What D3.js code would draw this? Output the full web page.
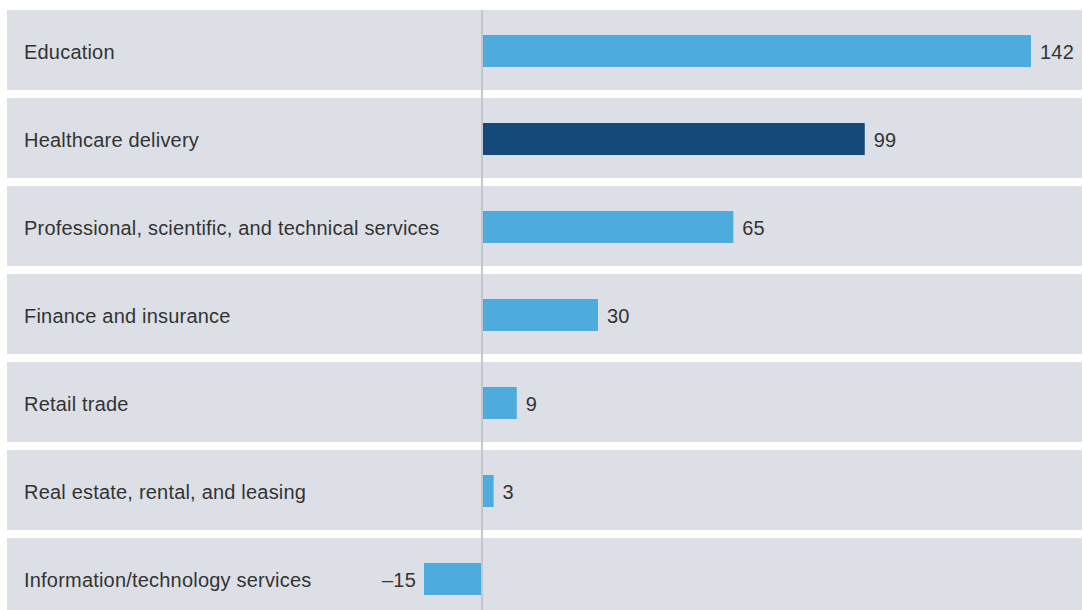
<!DOCTYPE html>
<html>
<head>
<meta charset="utf-8">
<script src="https://cdn.jsdelivr.net/npm/d3@7"></script>
<style>
	body { margin: 0; background: #fff; }
	text { font-family: "Liberation Sans", Arial, sans-serif; letter-spacing: 0.2px; }
</style>
</head>
<body>
<svg id="chart" width="1083" height="610"></svg>
<script>
// chart data
var categories = [
	'Education',
	'Healthcare delivery',
	'Professional, scientific, and technical services',
	'Finance and insurance',
	'Retail trade',
	'Real estate, rental, and leasing',
	'Information/technology services'
];
var values = [142, 99, 65, 30, 9, 3, -15];
var highlight = ['Healthcare delivery'];

var svg = d3.select('#chart');

//rows, 80px tall with 8px gaps
var y = d3.scaleBand()
	.domain(categories)
	.range([10, 10 + 88 * categories.length - 8])
	.paddingInner(8 / 88)
	.paddingOuter(0);

//value scale, zero at 482
var x = d3.scaleLinear()
	.domain([0, 142])
	.range([482, 1031]);

svg.selectAll('rect.row')
	.data(categories)
	.enter().append('rect')
	.attr('class', 'row')
	.attr('x', 7)
	.attr('y', function(d) { return y(d); })
	.attr('width', 1075)
	.attr('height', y.bandwidth())
	.attr('fill', '#dce0e6');

svg.selectAll('text.cat')
	.data(categories)
	.enter().append('text')
	.attr('class', 'cat')
	.attr('x', 24)
	.attr('y', function(d) { return y(d) + y.bandwidth() / 2 + 2; })
	.attr('dy', '0.35em')
	.attr('font-size', 20)
	.attr('fill', '#333')
	.text(function(d) { return d; });

var barH = 32;
svg.selectAll('rect.bar')
	.data(values)
	.enter().append('rect')
	.attr('class', 'bar')
	.attr('x', function(d) { return d >= 0 ? x(0) : x(d); })
	.attr('y', function(d, i) { return y(categories[i]) + y.bandwidth() / 2 - barH / 2 + 1; })
	.attr('width', function(d) { return Math.abs(x(d) - x(0)); })
	.attr('height', barH)
	.attr('fill', function(d, i) { return highlight.indexOf(categories[i]) >= 0 ? '#15497a' : '#4eabdd'; });

svg.selectAll('text.val')
	.data(values)
	.enter().append('text')
	.attr('class', 'val')
	.attr('x', function(d) { return d >= 0 ? x(d) + 9 : x(d) - 8; })
	.attr('y', function(d, i) { return y(categories[i]) + y.bandwidth() / 2 + 2; })
	.attr('dy', '0.35em')
	.attr('text-anchor', function(d) { return d >= 0 ? 'start' : 'end'; })
	.attr('font-size', 20)
	.attr('fill', '#333')
	.text(function(d) { return d < 0 ? '\u2013' + Math.abs(d) : d; });

//zero line
svg.append('line')
	.attr('x1', x(0)).attr('x2', x(0))
	.attr('y1', 10).attr('y2', 610)
	.attr('stroke', '#c3c7cc')
	.attr('stroke-width', 2);
</script>
</body>
</html>
